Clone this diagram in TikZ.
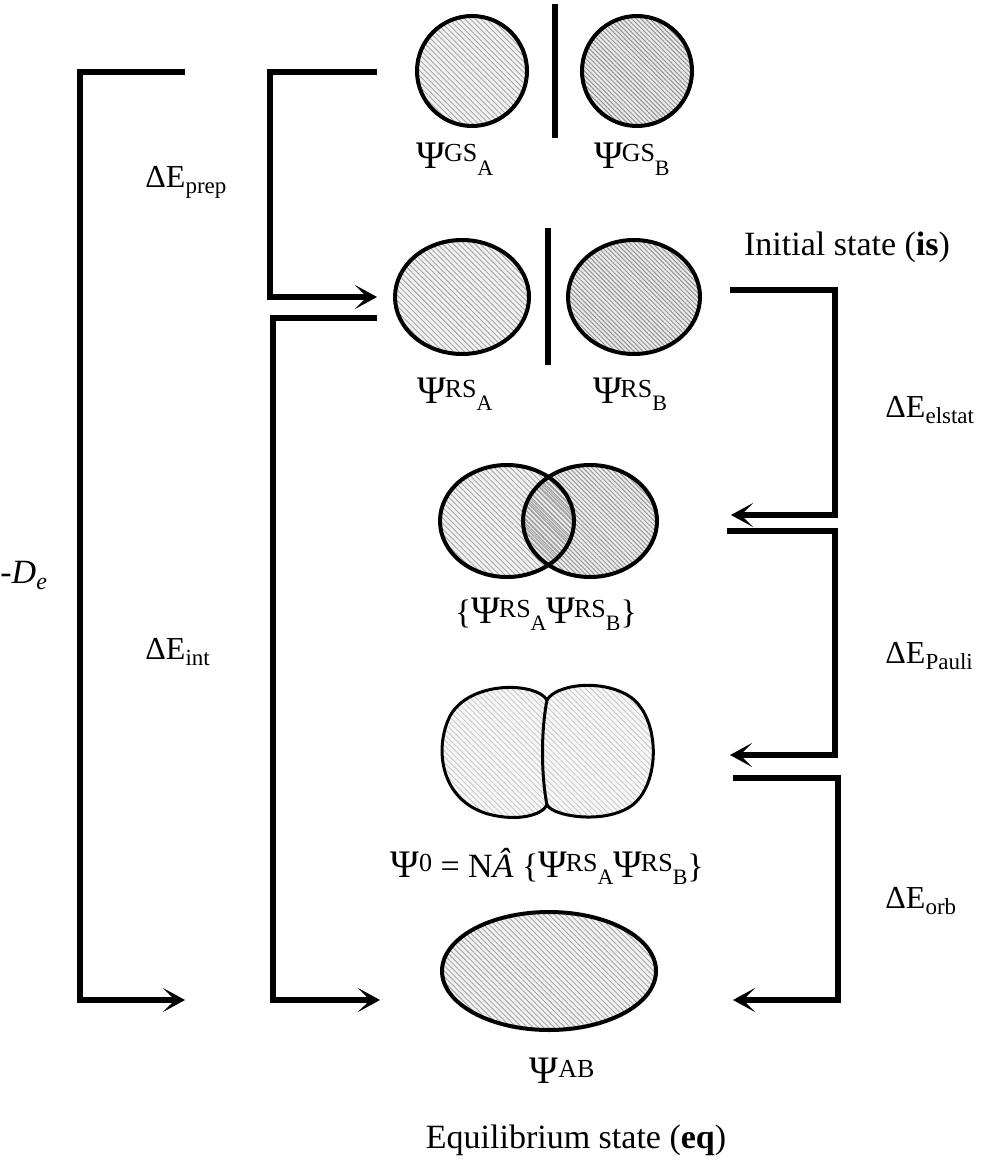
\documentclass[tikz,border=0pt]{standalone}
\usepackage{fontspec}
\setmainfont{Liberation Serif}
\usetikzlibrary{patterns.meta,arrows.meta}
\newcommand{\PsiL}[2]{{\fontsize{19.5}{19.5}\selectfont Ψ}\kern-0.04em\raisebox{3pt}{\fontsize{13}{13}\selectfont #1}\raisebox{-3.5pt}{\fontsize{11}{11}\selectfont #2}}
\newcommand{\DE}[1]{\fontsize{16}{16}\selectfont ΔE\raisebox{-3pt}{\fontsize{11.5}{11.5}\selectfont #1}}
\tikzset{
  conn/.style={line width=2.6pt, line cap=butt, line join=miter},
  arr/.style={conn, -{Stealth[length=11pt,width=12pt,inset=6pt]}},
  hatchA/.style={preaction={fill=gray!10}, pattern={Lines[angle=-45,distance=1.9pt,line width=0.45pt]}, pattern color=gray!70},
  hatchB/.style={preaction={fill=gray!16}, pattern={Lines[angle=-45,distance=1.6pt,line width=0.5pt]}, pattern color=gray!85},
  hatchL/.style={preaction={fill=gray!6}, pattern={Lines[angle=-45,distance=2pt,line width=0.4pt]}, pattern color=gray!45},
  outl/.style={line width=2pt},
  psilab/.style={anchor=base, inner sep=0pt, font=\fontsize{17}{17}\selectfont},
  delab/.style={anchor=base west, inner sep=0pt},
  statelab/.style={anchor=base, inner sep=0pt, font=\fontsize{17}{17}\selectfont}
}
\begin{document}
\begin{tikzpicture}[x=0.5pt,y=-0.5pt]
\useasboundingbox (0,0) rectangle (980,1161);

% ---------- top row: ground states ----------
\draw[outl,hatchA] (472,71) circle [radius=55];
\draw[outl,hatchB] (637,71) circle [radius=55];
\draw[line width=2.6pt] (555,4) -- (555,138);
\node[psilab] (gsA) at (455,168) {\PsiL{GS}{A}};
\node[psilab] (gsB) at (632,168) {\PsiL{GS}{B}};

% ---------- second row: reference states ----------
\draw[outl,hatchA] (462,297) ellipse [x radius=67, y radius=57];
\draw[outl,hatchB] (634,297) ellipse [x radius=66, y radius=57];
\draw[line width=2.6pt] (548,228) -- (548,365);
\node[psilab] (rsA) at (455,403) {\PsiL{RS}{A}};
\node[psilab] (rsB) at (630,403) {\PsiL{RS}{B}};

% ---------- third row: overlapping ----------
\fill[gray!10] (507,521) ellipse [x radius=67, y radius=56];
\fill[gray!14] (590,521) ellipse [x radius=67, y radius=56];
\path[pattern={Lines[angle=-45,distance=1.9pt,line width=0.45pt]}, pattern color=gray!70] (507,521) ellipse [x radius=67, y radius=56];
\path[pattern={Lines[angle=-45,distance=1.6pt,line width=0.5pt]}, pattern color=gray!80] (590,521) ellipse [x radius=67, y radius=56];
\draw[outl] (507,521) ellipse [x radius=67, y radius=56];
\draw[outl] (590,521) ellipse [x radius=67, y radius=56];
\node[psilab] (prod) at (546,623) {\{\PsiL{RS}{A}\PsiL{RS}{B}\}};

% ---------- fourth row: antisymmetrized ----------
\draw[line width=1.5pt, hatchL]
  (547,700) .. controls (536,682) and (470,680) .. (450,716)
  .. controls (434,748) and (440,800) .. (488,814)
  .. controls (518,822) and (542,815) .. (547,805)
  .. controls (553,816) and (600,824) .. (628,808)
  .. controls (660,790) and (662,722) .. (632,698)
  .. controls (604,678) and (556,684) .. (547,700) -- cycle;
\draw[line width=1.5pt] (547,700) .. controls (541,730) and (541,775) .. (547,805);
\node[psilab] (psi0) at (547,877) {{\fontsize{19.5}{19.5}\selectfont Ψ}\raisebox{3pt}{\fontsize{13}{13}\selectfont 0} = N\textit{\^A} \{\PsiL{RS}{A}\PsiL{RS}{B}\}};

% ---------- fifth row: final state ----------
\draw[outl,hatchA] (549,971) ellipse [x radius=107, y radius=59];
\node[psilab] (psiAB) at (562,1083) {{\fontsize{19.5}{19.5}\selectfont Ψ}\raisebox{3pt}{\fontsize{13}{13}\selectfont AB}};

% ---------- state labels ----------
\node[statelab] (init) at (847,255) {Initial state (\textbf{is})};
\node[statelab] (equi) at (576,1148) {Equilibrium  state (\textbf{eq})};

% ---------- left brackets ----------
\coordinate (o1) at (185,72);
\coordinate (o2) at (80,72);
\coordinate (o3) at (80,1000);
\coordinate (o4) at (185,1000);
\draw[arr] (o1) -- (o2) -- (o3) -- (o4);

\coordinate (p1) at (377,72);
\coordinate (p2) at (270,72);
\coordinate (p3) at (270,297);
\coordinate (p4) at (377,297);
\draw[arr] (p1) -- (p2) -- (p3) -- (p4);

\coordinate (q1) at (377,318);
\coordinate (q2) at (273,318);
\coordinate (q3) at (273,1000);
\coordinate (q4) at (380,1000);
\draw[arr] (q1) -- (q2) -- (q3) -- (q4);

\node[delab] (prep) at (145,187) {\DE{prep}};
\node[delab] (int) at (145,659) {\DE{int}};
\node[anchor=base west, inner sep=0pt, font=\fontsize{17}{17}\selectfont] (De) at (0,583) {-\textit{D}\raisebox{-3pt}{\fontsize{12}{12}\selectfont\itshape e}};

% ---------- right brackets ----------
\coordinate (r1) at (730,290);
\coordinate (r2) at (835,290);
\coordinate (r3) at (835,515);
\coordinate (r4) at (731,515);
\draw[arr] (r1) -- (r2) -- (r3) -- (r4);

\coordinate (s1) at (727,531);
\coordinate (s2) at (835,531);
\coordinate (s3) at (835,755);
\coordinate (s4) at (730,755);
\draw[arr] (s1) -- (s2) -- (s3) -- (s4);

\coordinate (t1) at (733,778);
\coordinate (t2) at (838,778);
\coordinate (t3) at (838,1000);
\coordinate (t4) at (733,1000);
\draw[arr] (t1) -- (t2) -- (t3) -- (t4);

\node[delab] (elstat) at (885,417) {\DE{elstat}};
\node[delab] (pauli) at (885,663) {\DE{Pauli}};
\node[delab] (orb) at (885,908) {\DE{orb}};
\end{tikzpicture}
\end{document}
